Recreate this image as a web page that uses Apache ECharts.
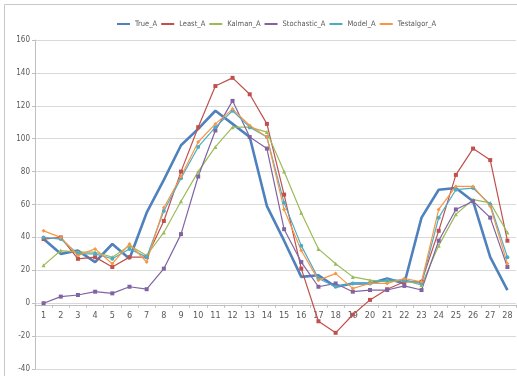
<!DOCTYPE html>
<html>
<head>
<meta charset="utf-8">
<script src="https://cdn.jsdelivr.net/npm/echarts@6/dist/echarts.min.js"></script>
<style>
  html, body { margin: 0; padding: 0; background: #ffffff; }
  #chart { width: 517px; height: 376px; }
</style>
</head>
<body>
<div id="chart"></div>
<script>
// Time steps 1..28
const categories = ['1','2','3','4','5','6','7','8','9','10','11','12','13','14','15','16','17','18','19','20','21','22','23','24','25','26','27','28'];

const trueA       = [39, 30, 32, 25, 36, 27, 55, 75, 96, 106, 117, 109, 101, 59, 38, 16, 17, 10, 12, 12, 15, 12, 52, 69, 70, 62, 28, 8];
const leastA      = [39, 40, 27, 28, 22, 28, 28, 50, 80, 107, 132, 137, 127, 109, 66, 21, -11, -18, -7, 2, 8.5, 13, 13, 44, 78, 94, 87, 38];
const kalmanA     = [23, 32, 31, 31, 28, 35, 29, 43, 62, 80, 95, 107, 107, 104, 80, 55, 33, 24, 16, 14, 13, 14, 11, 35, 54, 63, 61, 43];
const stochasticA = [0, 4, 5, 7, 6, 10, 8.5, 21, 42, 77, 105, 123, 101, 94, 45, 25, 10, 12, 7, 8, 8, 10.5, 8, 38, 57, 62, 52, 22];
const modelA      = [40, 39, 30, 30, 27, 33, 28, 56, 76, 95, 107, 117, 107, 101, 61, 35, 15, 10, 12, 12, 14, 14, 12, 52, 69, 70, 60, 28];
const testalgorA  = [44, 40, 29, 33, 24, 36, 25, 58, 77, 98, 109, 118, 108, 101, 57, 32, 14, 18, 9, 12, 12, 15, 13, 57, 71, 71, 59, 24];

const yTicks = { min: -40, max: 160, step: 20 };

const FONT = '"Liberation Sans Narrow", "DejaVu Sans Condensed", "Liberation Sans", sans-serif';
const TEXT = '#595959';

function markerLine(name, data, color, symbol) {
  return {
    name, type: 'line', data,
    symbol, symbolSize: 4, showSymbol: true,
    lineStyle: { color, width: 1.2 },
    itemStyle: { color },
    emphasis: { disabled: true }
  };
}

const chart = echarts.init(document.getElementById('chart'), null, { renderer: 'canvas' });
chart.setOption({
  animation: false,
  backgroundColor: '#ffffff',
  graphic: [{
    type: 'rect', silent: true, z: -10,
    shape: { x: 4.5, y: 4.5, width: 540, height: 400 },
    style: { fill: 'none', stroke: '#c8c8c8', lineWidth: 1 }
  }],
  legend: {
    top: 15, left: 112,
    itemWidth: 13, itemHeight: 2, itemGap: 4,
    icon: 'rect',
    textStyle: { fontFamily: FONT, fontSize: 7.5, color: TEXT },
    data: ['True_A', 'Least_A', 'Kalman_A', 'Stochastic_A', 'Model_A', 'Testalgor_A']
  },
  grid: { left: 35, right: 1, top: 40, bottom: 7, containLabel: false },
  xAxis: {
    type: 'category', data: categories, boundaryGap: true,
    axisLine: { onZero: false, lineStyle: { color: '#bfbfbf', width: 1 } },
    axisTick: { show: true, length: 3, lineStyle: { color: '#bfbfbf' } },
    axisLabel: { fontFamily: FONT, fontSize: 9, color: TEXT, margin: 6 },
    splitLine: { show: false }
  },
  yAxis: {
    type: 'value', min: yTicks.min, max: yTicks.max, interval: yTicks.step,
    axisLine: { show: true, lineStyle: { color: '#bfbfbf' } },
    axisTick: { show: true, length: 3, lineStyle: { color: '#bfbfbf' } },
    axisLabel: { fontFamily: FONT, fontSize: 8, color: TEXT, margin: 5 },
    splitLine: { lineStyle: { color: '#d9d9d9', width: 1.2 } }
  },
  series: [
    {
      name: 'True_A', type: 'line', data: trueA,
      symbol: 'none', showSymbol: false,
      lineStyle: { color: '#4F81BD', width: 2.6 },
      itemStyle: { color: '#4F81BD' },
      emphasis: { disabled: true }
    },
    markerLine('Least_A', leastA, '#C0504D', 'rect'),
    markerLine('Kalman_A', kalmanA, '#9BBB59', 'triangle'),
    markerLine('Stochastic_A', stochasticA, '#8064A2', 'rect'),
    markerLine('Model_A', modelA, '#4BACC6', 'circle'),
    markerLine('Testalgor_A', testalgorA, '#F79646', 'diamond')
  ]
});

// Move the category axis (line, ticks, labels) up so it crosses the value axis at zero.
const yZero = chart.convertToPixel({ yAxisIndex: 0 }, 0);
const yBottom = chart.convertToPixel({ yAxisIndex: 0 }, yTicks.min);
chart.setOption({ xAxis: { offset: -(yBottom - yZero) } });
</script>
</body>
</html>
